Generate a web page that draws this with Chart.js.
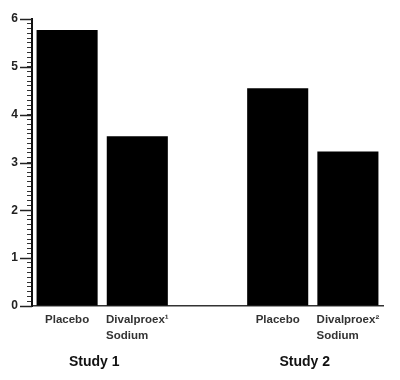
<!DOCTYPE html>
<html>
<head>
<meta charset="utf-8">
<script src="https://cdn.jsdelivr.net/npm/chart.js@4/dist/chart.umd.min.js"></script>
<style>
  body { margin: 0; background: #fff; }
  canvas { display: block; }
</style>
</head>
<body>
<canvas id="chartCanvas" width="400" height="380"></canvas>
<script>
// chart data
const categories = [['Placebo'], ['Divalproex\u00B9', 'Sodium'], [''], ['Placebo'], ['Divalproex\u00B2', 'Sodium']];
const values = [5.77, 3.55, null, 4.55, 3.23];
const groups = ['Study 1', 'Study 2'];
const groupIndex = [[0, 1], [3, 4]];
const yTicks = [0, 1, 2, 3, 4, 5, 6];

const labelFont = 'bold 11.5px "Liberation Sans", Arial, sans-serif';
const groupFont = 'bold 14px "Liberation Sans", Arial, sans-serif';

const labelPlugin = {
  id: 'labelPlugin',
  afterDraw(chart) {
    const ctx = chart.ctx;
    const x = chart.scales.x;
    const y = chart.scales.y;
    const area = chart.chartArea;
    ctx.save();

    // major ticks on the y axis
    ctx.strokeStyle = '#222';
    ctx.lineWidth = 1.5;
    yTicks.forEach(v => {
      const py = Math.round(y.getPixelForValue(v)) + 0.5;
      ctx.beginPath();
      ctx.moveTo(area.left - 12, py);
      ctx.lineTo(area.left, py);
      ctx.stroke();
    });

    // category labels, lines left aligned inside a centred block
    ctx.font = labelFont;
    ctx.fillStyle = '#333';
    ctx.textBaseline = 'middle';
    ctx.textAlign = 'left';
    categories.forEach((lines, i) => {
      const cx = x.getPixelForValue(i);
      const w = Math.max(...lines.map(l => ctx.measureText(l).width));
      lines.forEach((l, k) => {
        ctx.fillText(l, cx - w / 2, area.bottom + 14 + k * 16);
      });
    });

    // study labels
    ctx.font = groupFont;
    ctx.fillStyle = '#111';
    ctx.textAlign = 'center';
    groups.forEach((g, i) => {
      const [a, b] = groupIndex[i];
      const cx = (x.getPixelForValue(a) + x.getPixelForValue(b)) / 2 - 8;
      ctx.fillText(g, cx, area.bottom + 56);
    });
    ctx.restore();
  }
};

const ctx = document.getElementById('chartCanvas').getContext('2d');
new Chart(ctx, {
  type: 'bar',
  data: {
    labels: categories.map(c => c.join(' ')),
    datasets: [{
      data: values,
      backgroundColor: '#000',
      barPercentage: 0.87,
      categoryPercentage: 1
    }]
  },
  options: {
    responsive: false,
    animation: false,
    layout: { padding: { top: 19, right: 17, bottom: 66, left: 0 } },
    plugins: { legend: { display: false }, tooltip: { enabled: false } },
    scales: {
      x: {
        grid: { display: false },
        ticks: { display: false },
        border: { display: true, color: '#333', width: 1.5 }
      },
      y: {
        min: 0,
        max: 6,
        afterFit(scale) { scale.width = 32; },
        ticks: {
          stepSize: 0.1,
          autoSkip: false,
          padding: 9,
          color: '#222',
          font: { family: '"Liberation Sans", Arial, sans-serif', size: 12, weight: 'bold' },
          callback(v) {
            return Math.abs(v - Math.round(v)) < 1e-6 ? String(Math.round(v)) : '';
          }
        },
        grid: { drawOnChartArea: false, tickLength: 5, color: '#333', lineWidth: 1 },
        border: { display: true, color: '#111', width: 2 }
      }
    }
  },
  plugins: [labelPlugin]
});
</script>
</body>
</html>
